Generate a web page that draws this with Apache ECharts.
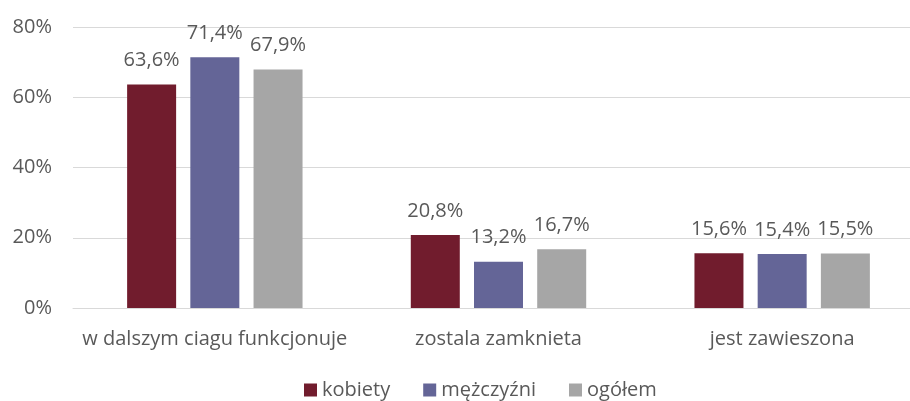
<!DOCTYPE html>
<html lang="pl">
<head>
    <meta charset="UTF-8">
    <title>Chart</title>
    <script src="https://cdn.jsdelivr.net/npm/echarts@6/dist/echarts.min.js"></script>
</head>
<body style="margin: 0">
<div id="chart" style="width: 910px; height: 401px"></div>
<script>
    let categories = ['w dalszym ciagu funkcjonuje', 'zostala zamknieta', 'jest zawieszona'];
    let seriesNames = ['kobiety', 'mężczyźni', 'ogółem'];
    let kobiety = [63.6, 20.8, 15.6];
    let mezczyzni = [71.4, 13.2, 15.4];
    let ogolem = [67.9, 16.7, 15.5];
    let yTicks = [0, 20, 40, 60, 80];

    let colors = ['#711c2d', '#646597', '#a6a6a6'];
    let textColor = '#595959';
    let font = 'Open Sans';

    let chart = echarts.init(document.getElementById('chart'));

    function pct(v) {
        return v.toFixed(1).replace('.', ',') + '%';
    }

    let allValues = [kobiety, mezczyzni, ogolem];
    let series = seriesNames.map(function (name, i) {
        return {
            name: name,
            type: 'bar',
            data: allValues[i],
            barWidth: 49,
            barGap: '29%',
            itemStyle: { color: colors[i] },
            label: {
                show: true,
                position: 'top',
                distance: 14,
                color: textColor,
                fontFamily: font,
                fontSize: 20,
                formatter: function (p) { return pct(p.value); }
            }
        };
    });

    chart.setOption({
        animation: false,
        grid: { left: 73, top: 27, width: 851, height: 281, outerBoundsMode: 'none', containLabel: false },
        legend: {
            bottom: -4,
            left: 299,
            itemWidth: 13,
            itemHeight: 13,
            itemGap: 33,
            icon: 'rect',
            textStyle: { color: textColor, fontFamily: font, fontSize: 20 },
            data: seriesNames
        },
        xAxis: {
            type: 'category',
            data: categories,
            axisTick: { show: false },
            axisLine: { lineStyle: { color: '#d9d9d9', width: 1 } },
            axisLabel: { color: textColor, fontFamily: font, fontSize: 20, margin: 21, interval: 0 }
        },
        yAxis: {
            type: 'value',
            min: yTicks[0],
            max: yTicks[yTicks.length - 1],
            interval: 20,
            axisLine: { show: false },
            axisTick: { show: false },
            splitLine: { lineStyle: { color: '#d9d9d9', width: 1 } },
            axisLabel: { color: textColor, fontFamily: font, fontSize: 20, margin: 21, formatter: '{value}%' }
        },
        series: series
    });
</script>
</body>
</html>
